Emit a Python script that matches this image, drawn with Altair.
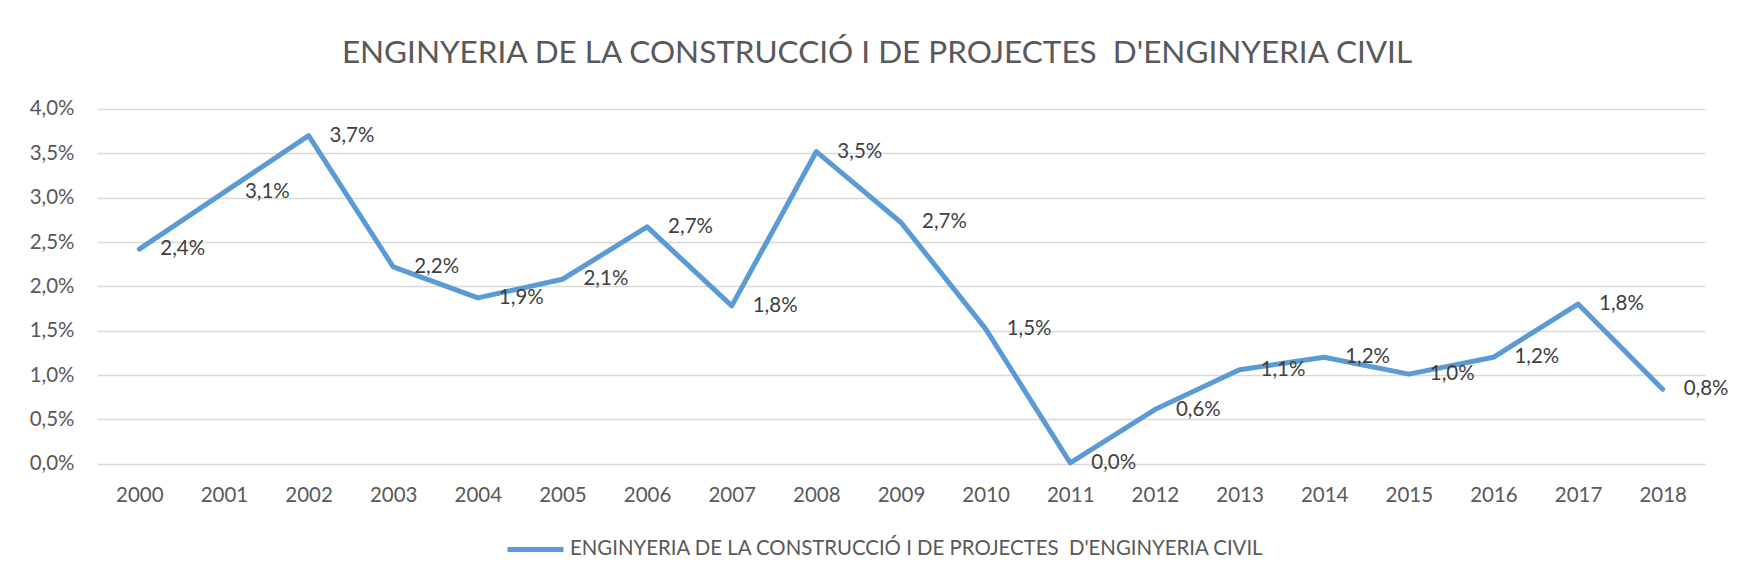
import altair as alt
import pandas as pd

years = [str(y) for y in range(2000, 2019)]
values_pct = [2.42, 3.06, 3.70, 2.22, 1.87, 2.08, 2.67, 1.78, 3.52, 2.72,
              1.52, 0.01, 0.61, 1.06, 1.20, 1.01, 1.20, 1.80, 0.84]
series_name = "ENGINYERIA DE LA CONSTRUCCIÓ I DE PROJECTES\u00a0 D'ENGINYERIA CIVIL"
y_ticks = [0, 0.005, 0.01, 0.015, 0.02, 0.025, 0.03, 0.035, 0.04]

df = pd.DataFrame({
    "year": years,
    "value": [v / 100 for v in values_pct],
    "series": series_name,
})

FONT = "Lato"
line_color = "#5B9BD5"

base = alt.Chart(df).encode(
    x=alt.X("year:O", title=None,
            scale=alt.Scale(padding=0.5),
            axis=alt.Axis(labelAngle=0, ticks=False, domain=False, grid=False,
                          labelFontSize=20.5, labelColor="#595959", labelFont=FONT,
                          labelPadding=22)),
    y=alt.Y("value:Q", title=None,
            scale=alt.Scale(domain=[0, 0.04], nice=False),
            axis=alt.Axis(values=y_ticks, ticks=False, domain=False,
                          labelExpr="replace(format(datum.value, '.1%'), '.', ',')",
                          labelFontSize=20.5, labelColor="#595959", labelFont=FONT,
                          labelPadding=23, gridColor="#D9D9D9", gridWidth=1.3)),
)

line = base.mark_line(strokeWidth=5, strokeCap="round", strokeJoin="round").encode(
    color=alt.Color("series:N", title=None,
                    scale=alt.Scale(domain=[series_name], range=[line_color]),
                    legend=alt.Legend(orient="none", legendX=408, legendY=410,
                                      direction="horizontal", symbolType="stroke",
                                      symbolSize=3136, symbolStrokeWidth=5,
                                      labelFontSize=20.4, labelColor="#595959",
                                      labelFont=FONT, labelOffset=4,
                                      labelLimit=1000))
)

labels = base.transform_calculate(
    label="replace(format(datum.value, '.1%'), '.', ',')"
).mark_text(align="left", baseline="middle", dx=21, fontSize=20.5,
            color="#404040", font=FONT).encode(text="label:N")

chart = alt.layer(line, labels).properties(
    width=1608, height=354.7,
    padding={"left": 89, "top": 101, "right": 29, "bottom": 110},
    autosize=alt.AutoSizeParams(type="none"),
    title=alt.TitleParams(series_name, fontSize=31.5, font=FONT, color="#595959",
                          fontWeight="normal", anchor="middle", frame="group",
                          dx=-24, offset=29),
).configure_view(stroke=None)

chart.save("out.html", embed_options={"renderer": "svg", "actions": False})
